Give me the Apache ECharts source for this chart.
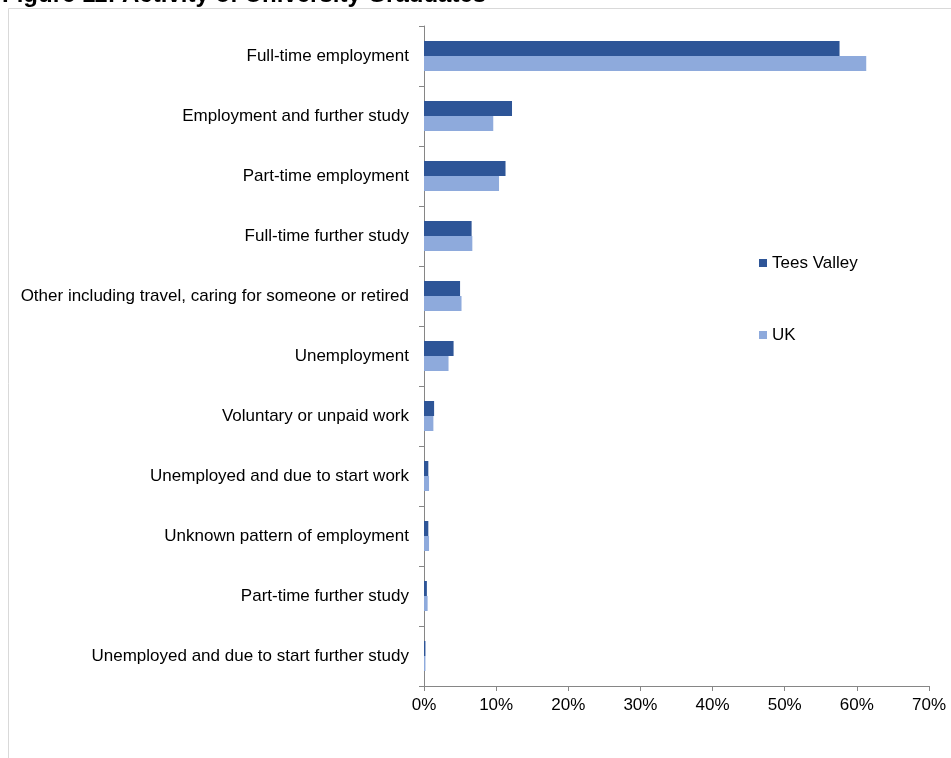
<!DOCTYPE html>
<html>
<head>
<meta charset="utf-8">
<title>Activity of University Graduates</title>
<script src="https://cdn.jsdelivr.net/npm/echarts@6/dist/echarts.min.js"></script>
<style>
  html, body { margin: 0; padding: 0; background: #ffffff; }
  #chart { width: 951px; height: 758px; }
</style>
</head>
<body>
<div id="chart"></div>
<script>
// Graduate destinations, percent of leavers
var categories = [
  'Full-time employment',
  'Employment and further study',
  'Part-time employment',
  'Full-time further study',
  'Other including travel, caring for someone or retired',
  'Unemployment',
  'Voluntary or unpaid work',
  'Unemployed and due to start work',
  'Unknown pattern of employment',
  'Part-time further study',
  'Unemployed and due to start further study'
];
var teesValley = [57.6, 12.2, 11.3, 6.6, 5.0, 4.1, 1.4, 0.6, 0.6, 0.4, 0.2];
var uk = [61.3, 9.6, 10.4, 6.7, 5.2, 3.4, 1.3, 0.7, 0.7, 0.5, 0.2];
var titleText = 'Figure 11: Activity of University Graduates';

var FONT = '"Liberation Sans", Arial, sans-serif';
var AXIS_GREY = '#868686';

var chart = echarts.init(document.getElementById('chart'), null, { renderer: 'canvas' });

chart.setOption({
  backgroundColor: '#ffffff',
  animation: false,
  textStyle: { fontFamily: FONT },
  graphic: [
    {
      type: 'text',
      left: 2,
      top: -17,
      z: 0,
      style: {
        text: titleText,
        font: 'bold 24px ' + FONT,
        fill: '#000000'
      }
    },
    {
      // chart area panel, its top edge hides the lower part of the heading
      type: 'rect',
      z: 1,
      shape: { x: 8.5, y: 8.5, width: 1000, height: 8 },
      style: { fill: '#ffffff', stroke: null }
    },
    {
      type: 'rect',
      z: 1,
      silent: true,
      shape: { x: 8.5, y: 8.5, width: 1000, height: 1000 },
      style: { fill: null, stroke: '#D9D9D9', lineWidth: 1 }
    }
  ],
  legend: {
    orient: 'vertical',
    left: 759,
    top: 254,
    padding: 0,
    itemWidth: 8,
    itemHeight: 8,
    itemGap: 54,
    icon: 'rect',
    textStyle: { fontSize: 17, color: '#000000', lineHeight: 18, fontFamily: FONT },
    data: ['Tees Valley', 'UK']
  },
  grid: {
    left: 424,
    right: 22,
    top: 26,
    bottom: 72,
    containLabel: false
  },
  xAxis: {
    type: 'value',
    min: 0,
    max: 70,
    interval: 10,
    axisLine: { show: true, lineStyle: { color: AXIS_GREY, width: 1 } },
    axisTick: { show: true, length: 5, lineStyle: { color: AXIS_GREY } },
    splitLine: { show: false },
    axisLabel: {
      formatter: '{value}%',
      fontSize: 17,
      color: '#000000',
      margin: 11,
      fontFamily: FONT
    }
  },
  yAxis: {
    type: 'category',
    inverse: true,
    data: categories,
    axisLine: { show: true, lineStyle: { color: AXIS_GREY, width: 1 } },
    axisTick: { show: true, length: 5, alignWithLabel: false, lineStyle: { color: AXIS_GREY } },
    splitLine: { show: false },
    axisLabel: {
      fontSize: 17,
      color: '#000000',
      margin: 15,
      interval: 0,
      fontFamily: FONT
    }
  },
  series: [
    {
      name: 'Tees Valley',
      type: 'bar',
      data: teesValley,
      barCategoryGap: '50%',
      barGap: '0%',
      itemStyle: { color: '#2E5597' }
    },
    {
      name: 'UK',
      type: 'bar',
      data: uk,
      barCategoryGap: '50%',
      barGap: '0%',
      itemStyle: { color: '#8EAADC' }
    }
  ]
});
</script>
</body>
</html>
